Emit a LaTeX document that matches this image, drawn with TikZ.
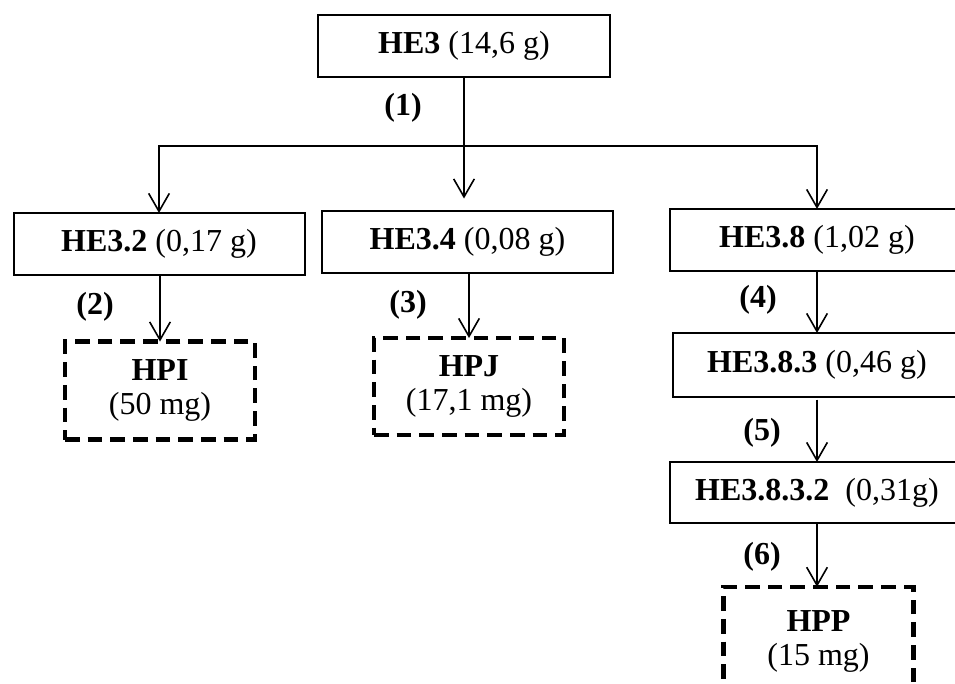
\documentclass[tikz,border=0pt]{standalone}
\usepackage{fontspec}
\setmainfont{Liberation Serif}
\usetikzlibrary{arrows.meta}
\begin{document}
\begin{tikzpicture}[x=0.75pt,y=-0.75pt,
  font=\fontsize{24}{25}\selectfont,
  box/.style={draw,line width=1.5pt,inner sep=0pt,outer sep=0pt,minimum height=46.5pt},
  prod/.style={draw,line width=3.3pt,dash pattern=on 11pt off 6pt,inner sep=0pt,outer sep=0pt,
    minimum width=142.5pt,minimum height=73.5pt,align=center},
  arr/.style={line width=1.1pt,-{Straight Barb[length=13.5pt,width=15.5pt,line width=1.2pt]}},
  lab/.style={font=\fontsize{24}{25}\selectfont\bfseries}]
\clip (0,0) rectangle (955,683);
\fill[white] (0,0) rectangle (955,683);
% boxes
\node[box,minimum width=219pt] (HE3) at (464,46) {\textbf{HE3} (14,6 g)};
\node[box,minimum width=218.25pt] (HE32) at (159,244) {\textbf{HE3.2} (0,17 g)};
\node[box,minimum width=218.25pt] (HE34) at (467.5,241.5) {\textbf{HE3.4} (0,08 g)};
\node[box,minimum width=220.5pt] (HE38) at (817,240) {\textbf{HE3.8} (1,02 g)};
\node[box,minimum width=216pt,minimum height=48pt] (HE383) at (817,365) {\textbf{HE3.8.3} (0,46 g)};
\node[box,minimum width=220.5pt,minimum height=45.75pt] (HE3832) at (817,492.5) {\textbf{HE3.8.3.2}\ \ (0,31g)};
\node[prod] (HPI) at (160,390.5) {\textbf{HPI}\\(50 mg)};
\node[prod,minimum height=72.75pt] (HPJ) at (469,386.5) {\textbf{HPJ}\\(17,1 mg)};
\node[prod,minimum height=82pt] (HPP) at (818.5,641.5) {\textbf{HPP}\\(15 mg)};
% connectors
\coordinate (split) at (464,146);
\draw[arr] (HE3.south) -- ([yshift=9pt]HE3.south |- HE34.north);
\draw[arr] (split) -| (HE32.north);
\draw[arr] (split) -| (HE38.north);
\draw[arr] (HE32.south -| HPI.north) -- (HPI.north);
\draw[arr] (HE34.south -| HPJ.north) -- (HPJ.north);
\draw[arr] (HE38.south) -- (HE383.north);
\draw[arr] ([yshift=-2pt]HE383.south) -- (HE3832.north);
\draw[arr] (HE3832.south) -- (HPP.north -| HE3832.south);
% step labels
\node[lab] (l1) at (403,108) {(1)};
\node[lab] (l2) at (95,307) {(2)};
\node[lab] (l3) at (408,305) {(3)};
\node[lab] (l4) at (758,300) {(4)};
\node[lab] (l5) at (762,433) {(5)};
\node[lab] (l6) at (762,557) {(6)};
\end{tikzpicture}
\end{document}
